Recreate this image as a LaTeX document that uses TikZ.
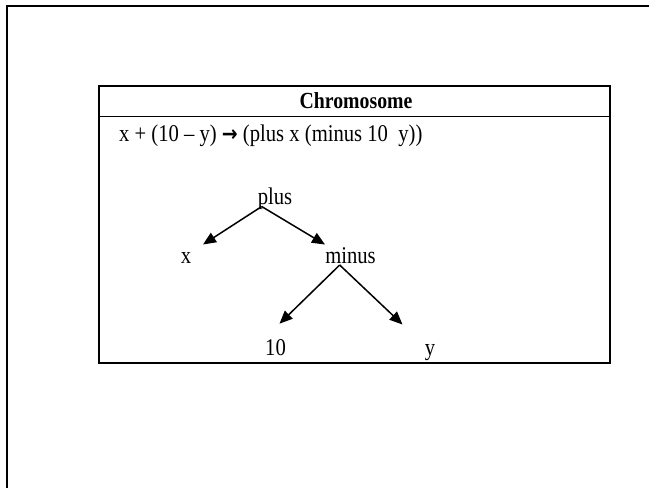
\documentclass[tikz,border=0pt]{standalone}
\usepackage{fontspec}
\setmainfont{Liberation Serif}
\newfontfamily\arrowfont{DejaVu Sans}
\usepackage{graphicx}
\usetikzlibrary{arrows.meta,calc}
\newcommand{\sq}[1]{\scalebox{0.86}[1]{#1}}
\tikzset{
  lbl/.style={anchor=base, inner sep=0pt, font=\fontsize{24}{28}\selectfont},
  edge/.style={line width=1.5pt, -{Triangle[length=13pt,width=11pt]}},
  frame/.style={line width=2pt},
}
\begin{document}
\begin{tikzpicture}[x=1pt,y=-1pt]
\useasboundingbox (0,0) rectangle (649,488);
\clip (0,0) rectangle (649,488);
\fill[white] (0,0) rectangle (649,488);
% outer frame (continues beyond the picture)
\draw[frame] (7,5.5) rectangle (720,560);
% chromosome box
\draw[line width=1.7pt] (99,86) rectangle (610,362.7);
\draw[line width=1.4pt] (99,116.7) -- (610,116.7);
\node[lbl, font=\fontsize{23}{27}\selectfont\bfseries] (title) at (356,108.7) {\sq{Chromosome}};
\node[lbl, anchor=base west] (expr) at (119,141.7) {\sq{x + (10 -- y) {\arrowfont\bfseries\fontsize{22}{26}\selectfont →} (plus x (minus 10 \ y))}};
% tree
\node[lbl] (plus) at (275,204) {\sq{plus}};
\node[lbl] (x) at (186,263.3) {\sq{x}};
\node[lbl] (minus) at (350.5,263.3) {\sq{minus}};
\node[lbl] (ten) at (275.5,355.7) {\sq{10}};
\node[lbl] (y) at (430,355.7) {\sq{y}};
\coordinate (plusout) at (261.7,206.5);
\coordinate (xin) at (203,244.5);
\coordinate (minusin) at (325,244.5);
\coordinate (minusout) at (339.7,265);
\coordinate (tenin) at (279.5,323.7);
\coordinate (yin) at (402.5,324.5);
\draw[edge] (plusout) -- (xin);
\draw[edge] (plusout) -- (minusin);
\draw[edge] (minusout) -- (tenin);
\draw[edge] (minusout) -- (yin);
\end{tikzpicture}
\end{document}
